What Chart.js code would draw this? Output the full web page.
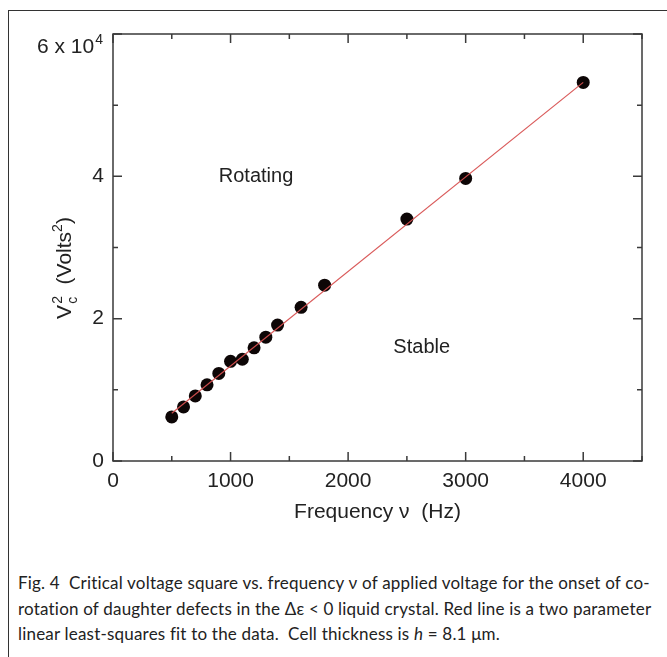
<!DOCTYPE html>
<html>
<head>
<meta charset="utf-8">
<script src="https://cdn.jsdelivr.net/npm/chart.js@4.4.1/dist/chart.umd.min.js"></script>
<style>
    html, body { margin: 0; padding: 0; background: #fff; overflow: hidden; width: 667px; height: 657px; }
    #frame { position: absolute; left: 8px; top: 10px; width: 800px; height: 800px; border: 1.5px solid #333; }
    #chart { position: absolute; left: 0; top: 0; }
    #caption {
        position: absolute; left: 18px; top: 570px;
        font-family: Lato, "Open Sans", sans-serif; font-size: 17px; letter-spacing: 0.2px; line-height: 25.5px;
        color: #222; white-space: nowrap;
    }
</style>
</head>
<body>
<div id="frame"></div>
<canvas id="chart" width="667" height="540"></canvas>
<div id="caption">
    Fig. 4&nbsp; Critical voltage square vs. frequency &nu; of applied voltage for the onset of co-<br>
    rotation of daughter defects in the &Delta;&epsilon; &lt; 0 liquid crystal. Red line is a two parameter<br>
    linear least-squares fit to the data.&nbsp; Cell thickness is <i>h</i> = 8.1 &mu;m.
</div>
<script>
// measured points
const freqHz = [500, 600, 700, 800, 900, 1000, 1100, 1200, 1300, 1400, 1600, 1800, 2500, 3000, 4000];
const vc2 = [6200, 7600, 9150, 10700, 12300, 14000, 14300, 15900, 17400, 19100, 21600, 24700, 34000, 39700, 53200];

// least-squares line, read at its two ends
const fitX = [500, 4000];
const fitY = [6700, 53200];

const textColor = "#222";
const axisColor = "#3a3a3a";
const fontName = '"Liberation Sans", Arial, sans-serif';

// frame, inward ticks on all four sides, titles and notes
const decorations = {
    id: "decorations",
    afterDraw(chart) {
        const ctx = chart.ctx;
        const area = chart.chartArea;
        const xs = chart.scales.x;
        const ys = chart.scales.y;
        ctx.save();
        ctx.strokeStyle = axisColor;
        ctx.lineWidth = 1.5;
        ctx.strokeRect(area.left, area.top, area.right - area.left, area.bottom - area.top);

        ctx.beginPath();
        xs.ticks.forEach(t => {
            const px = xs.getPixelForValue(t.value);
            const len = t.value % 1000 === 0 ? 9 : 5;
            ctx.moveTo(px, area.bottom); ctx.lineTo(px, area.bottom - len);
            ctx.moveTo(px, area.top); ctx.lineTo(px, area.top + len);
        });
        ys.ticks.forEach(t => {
            const py = ys.getPixelForValue(t.value);
            const len = t.value % 20000 === 0 ? 9 : 5;
            ctx.moveTo(area.left, py); ctx.lineTo(area.left + len, py);
            ctx.moveTo(area.right, py); ctx.lineTo(area.right - len, py);
        });
        ctx.stroke();

        ctx.fillStyle = textColor;

        // top y label with exponent
        ctx.font = "21px " + fontName;
        ctx.textBaseline = "alphabetic";
        ctx.textAlign = "left";
        const mant = "6 x 10";
        const mw = ctx.measureText(mant).width;
        const lx = 37;
        ctx.fillText(mant, lx, 53);
        ctx.font = "14px " + fontName;
        ctx.fillText("4", lx + mw + 1, 44);

        // x title
        ctx.font = "21px " + fontName;
        ctx.textAlign = "center";
        ctx.fillText("Frequency \u03bd  (Hz)", (area.left + area.right) / 2, 518);

        // y title, rotated
        ctx.save();
        ctx.translate(71, 268);
        ctx.rotate(-Math.PI / 2);
        ctx.textAlign = "left";
        const big = "21px " + fontName;
        const small = "14px " + fontName;
        ctx.font = big;
        const wV = ctx.measureText("V").width;
        const wRest = ctx.measureText("  (Volts").width;
        const wClose = ctx.measureText(")").width;
        ctx.font = small;
        const wS = ctx.measureText("2").width;
        const total = wV + wS + 1 + wRest + wS + wClose;
        let x = -total / 2;
        ctx.font = big;
        ctx.fillText("V", x, 0);
        x += wV;
        ctx.font = small;
        ctx.fillText("2", x + 1, -9);
        ctx.fillText("c", x + 1, 6);
        x += wS + 1;
        ctx.font = big;
        ctx.fillText("  (Volts", x, 0);
        x += wRest;
        ctx.font = small;
        ctx.fillText("2", x, -9);
        x += wS;
        ctx.font = big;
        ctx.fillText(")", x, 0);
        ctx.restore();

        // region notes
        ctx.font = "20px " + fontName;
        ctx.textAlign = "left";
        ctx.textBaseline = "middle";
        ctx.fillText("Rotating", xs.getPixelForValue(900), ys.getPixelForValue(40000));
        ctx.fillText("Stable", xs.getPixelForValue(2385), ys.getPixelForValue(15900));
        ctx.restore();
    }
};

const ctx = document.getElementById("chart").getContext("2d");
new Chart(ctx, {
    type: "scatter",
    data: {
        datasets: [{
            type: "line",
            label: "fit",
            data: fitX.map((x, i) => ({ x: x, y: fitY[i] })),
            borderColor: "rgba(215, 80, 80, 0.95)",
            borderWidth: 1.2,
            pointRadius: 0,
            fill: false,
            order: 0
        }, {
            label: "data",
            data: freqHz.map((x, i) => ({ x: x, y: vc2[i] })),
            backgroundColor: "#0d0606",
            borderWidth: 0,
            pointRadius: 6.5,
            order: 1
        }]
    },
    options: {
        responsive: false,
        animation: false,
        layout: { padding: { left: 0, top: 34, right: 25, bottom: 0 } },
        plugins: {
            legend: { display: false },
            tooltip: { enabled: false }
        },
        scales: {
            x: {
                type: "linear",
                min: 0,
                max: 4500,
                grid: { display: false, drawTicks: false },
                border: { display: false },
                ticks: {
                    stepSize: 500,
                    padding: 8,
                    color: textColor,
                    font: { family: fontName, size: 21 },
                    maxRotation: 0,
                    autoSkip: false,
                    callback: v => (v % 1000 === 0 ? String(v) : "")
                },
                afterFit: s => { s.height = 79; }
            },
            y: {
                type: "linear",
                min: 0,
                max: 60000,
                grid: { display: false, drawTicks: false },
                border: { display: false },
                ticks: {
                    stepSize: 10000,
                    padding: 9,
                    color: textColor,
                    font: { family: fontName, size: 21 },
                    autoSkip: false,
                    callback: v => (v % 20000 === 0 && v < 60000 ? String(v / 10000) : "")
                },
                afterFit: s => { s.width = 113; }
            }
        }
    },
    plugins: [decorations]
});
</script>
</body>
</html>
